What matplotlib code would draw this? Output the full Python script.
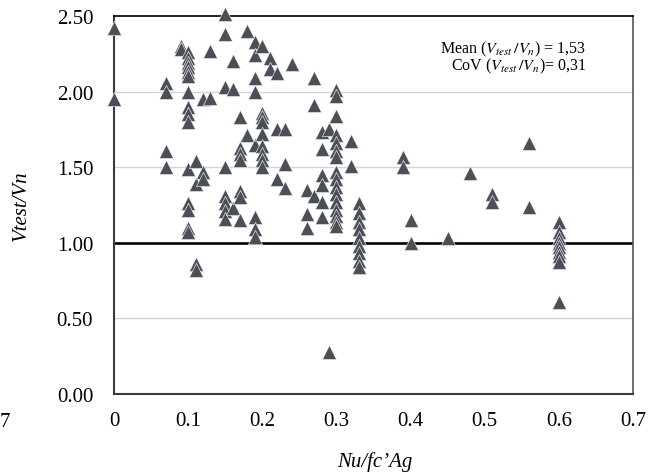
import matplotlib
matplotlib.use('Agg')
import matplotlib.pyplot as plt

plt.rcParams['font.family'] = ['Liberation Serif', 'DejaVu Serif']
plt.rcParams['mathtext.fontset'] = 'stix'

# Nu/fc'Ag (axial load ratio) and Vtest/Vn
n_ratio = (
    [0.00] * 2 + [0.07] * 4 + [0.09] * 2 + [0.10] * 15 + [0.11] * 4 +
    [0.12] * 3 + [0.13] * 2 + [0.15] * 8 + [0.16] * 3 + [0.17] * 7 +
    [0.18] * 2 + [0.19] * 8 + [0.20] * 9 + [0.21] * 2 + [0.22] * 3 +
    [0.23] * 3 + [0.24] * 1 + [0.26] * 3 + [0.27] * 3 + [0.28] * 6 +
    [0.29] * 2 + [0.30] * 16 + [0.32] * 2 + [0.33] * 9 + [0.39] * 2 +
    [0.40] * 2 + [0.45] * 1 + [0.48] * 1 + [0.51] * 2 + [0.56] * 2 +
    [0.60] * 9
)
v_ratio = [
    2.42, 1.95,
    2.06, 2.00, 1.61, 1.50,
    2.30, 2.28,
    2.26, 2.22, 2.19, 2.16, 2.13, 2.10, 2.00, 1.90, 1.85, 1.80, 1.49, 1.26, 1.22, 1.10, 1.07,
    1.54, 1.39, 0.86, 0.82,
    1.95, 1.47, 1.42,
    2.27, 1.96,
    2.51, 2.38, 2.03, 1.50, 1.31, 1.26, 1.21, 1.16,
    2.20, 2.02, 1.23,
    1.83, 1.63, 1.59, 1.55, 1.34, 1.30, 1.15,
    2.40, 1.71,
    2.33, 2.24, 2.09, 2.00, 1.65, 1.17, 1.09, 1.04,
    2.30, 1.86, 1.83, 1.80, 1.72, 1.64, 1.59, 1.55, 1.50,
    2.22, 2.15,
    2.12, 1.75, 1.42,
    1.75, 1.52, 1.36,
    2.18,
    1.35, 1.19, 1.10,
    2.09, 1.91, 1.31,
    1.73, 1.62, 1.45, 1.38, 1.27, 1.17,
    1.75, 0.28,
    2.01, 1.97, 1.84, 1.71, 1.66, 1.61, 1.57, 1.47, 1.42, 1.37, 1.32, 1.27, 1.22, 1.18, 1.14, 1.11,
    1.67, 1.51,
    1.26, 1.20, 1.14, 1.09, 1.03, 0.98, 0.93, 0.88, 0.84,
    1.57, 1.50,
    1.15, 1.00,
    1.03,
    1.46,
    1.32, 1.27,
    1.66, 1.24,
    1.14, 1.07, 1.03, 1.00, 0.97, 0.94, 0.91, 0.87, 0.61,
]

x_ticks = [0, 0.1, 0.2, 0.3, 0.4, 0.5, 0.6, 0.7]
x_tick_labels = ['0', '0.1', '0.2', '0.3', '0.4', '0.5', '0.6', '0.7']
y_ticks = [0.0, 0.5, 1.0, 1.5, 2.0, 2.5]
y_tick_labels = ['0.00', '0.50', '1.00', '1.50', '2.00', '2.50']
mean_txt = 'Mean ($V_{test}\\,/V_n$) = 1,53'
cov_txt = 'CoV ($V_{test}\\,/V_n$)= 0,31'

fig = plt.figure(figsize=(6.61, 4.77), dpi=100)
ax = fig.add_axes([0.1725, 0.1719, 0.7851, 0.7925])

for yg in [0.5, 1.5, 2.0]:
    ax.axhline(yg, color='#d4d4d4', lw=1.0, zorder=0)
ax.axhline(1.0, color='black', lw=1.9, zorder=1)

ax.scatter(n_ratio, v_ratio, marker='^', s=105, color='#4b5058',
           edgecolors='white', linewidths=0.4, zorder=3, clip_on=False)

ax.set_xlim(0, 0.7)
ax.set_ylim(0, 2.5)
ax.set_xticks(x_ticks)
ax.set_xticklabels(x_tick_labels)
ax.set_yticks(y_ticks)
ax.set_yticklabels(y_tick_labels)
ax.tick_params(axis='both', length=0, labelsize=15)
ax.tick_params(axis='y', pad=15)
ax.tick_params(axis='x', pad=12)

ax.spines['left'].set_color('#3a3a3a')
ax.spines['left'].set_linewidth(1.5)
ax.spines['bottom'].set_color('#3a3a3a')
ax.spines['bottom'].set_linewidth(1.5)
ax.spines['top'].set_color('black')
ax.spines['top'].set_linewidth(1.2)
ax.spines['right'].set_color('#555555')
ax.spines['right'].set_linewidth(1.2)

ax.set_ylabel('Vtest/Vn', fontsize=15, style='italic')
ax.yaxis.set_label_coords(-0.16, 0.5)
ax.set_xlabel('Nu/fc\u2019Ag', fontsize=15, style='italic')
ax.xaxis.set_label_coords(0.503, -0.15)

ax.text(0.91, 0.915, mean_txt, transform=ax.transAxes, ha='right', va='center', fontsize=11.5)
ax.text(0.91, 0.868, cov_txt, transform=ax.transAxes, ha='right', va='center', fontsize=11.5)

# leftover of a neighbouring tick label at the far left edge
fig.text(0.0, 1 - 423 / 477, '7', ha='left', va='center', fontsize=15)

fig.savefig('out.png', dpi=100)
